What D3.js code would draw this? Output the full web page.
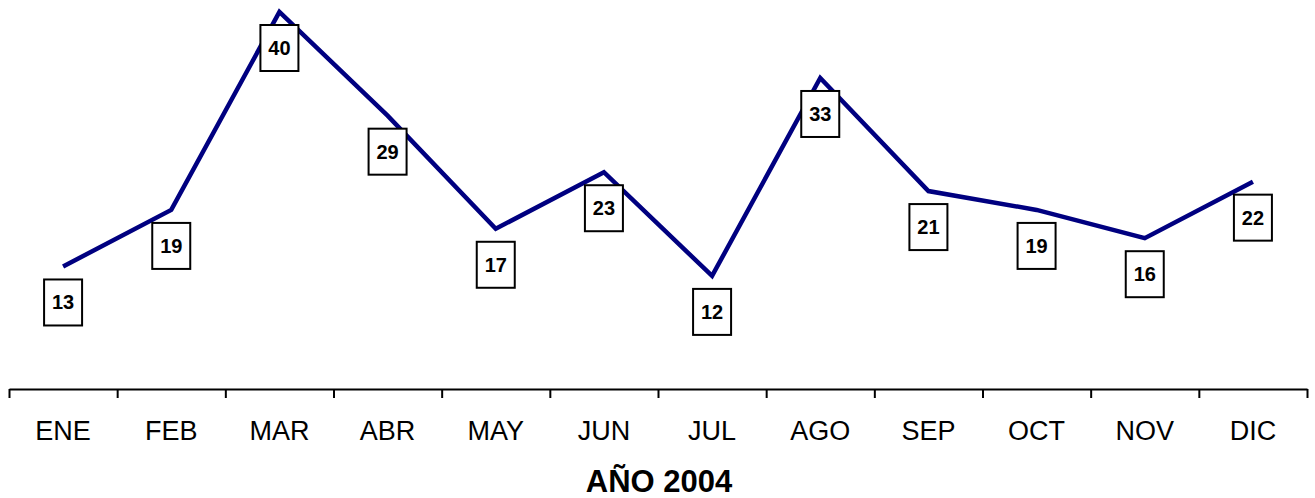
<!DOCTYPE html>
<html>
<head>
<meta charset="utf-8">
<script src="https://cdn.jsdelivr.net/npm/d3@7"></script>
<style>
  html, body { margin: 0; padding: 0; background: #fff; }
  svg { display: block; font-family: "Liberation Sans", Arial, sans-serif; }
</style>
</head>
<body>
<svg id="chart" width="1315" height="498"></svg>
<script>
const months = ["ENE","FEB","MAR","ABR","MAY","JUN","JUL","AGO","SEP","OCT","NOV","DIC"];
const values = [13, 19, 40, 29, 17, 23, 12, 33, 21, 19, 16, 22];
const xTitle = "AÑO 2004";

const svg = d3.select("#chart");
const left = 9, right = 1307, axisY = 389, topY = 12;

const x = d3.scaleBand().domain(months).range([left, right]).padding(0);
const xEdge = d3.scaleLinear().domain([0, months.length]).range([left, right]);
const y = d3.scaleLinear().domain([0, 40]).range([axisY, topY]);

// Axis line with ticks at category boundaries
const edgeAxis = svg.append("g")
  .attr("transform", `translate(0,${axisY})`)
  .call(d3.axisBottom(xEdge).tickValues(d3.range(months.length + 1)).tickFormat("").tickSize(9).tickSizeOuter(0));
edgeAxis.selectAll("path, line").attr("stroke", "#000").attr("stroke-width", 2);

// Category labels
const labelAxis = svg.append("g")
  .attr("transform", `translate(0,${axisY})`)
  .call(d3.axisBottom(x).tickSize(0));
labelAxis.select(".domain").remove();
labelAxis.selectAll("text")
  .attr("y", 51).attr("dy", 0)
  .attr("font-size", 27)
  .attr("font-family", "Liberation Sans, Arial, sans-serif")
  .attr("fill", "#000");

// Axis title
svg.append("text")
  .attr("x", 659).attr("y", 492)
  .attr("text-anchor", "middle")
  .attr("font-size", 31).attr("font-weight", "bold")
  .attr("fill", "#000")
  .text(xTitle);

const cx = d => x(d) + x.bandwidth() / 2;

// Line
const line = d3.line().x((d, i) => cx(months[i])).y(d => y(d));
svg.append("path")
  .datum(values)
  .attr("d", line)
  .attr("fill", "none")
  .attr("stroke", "#000080")
  .attr("stroke-width", 4.5)
  .attr("stroke-linejoin", "miter");

// Data labels
const lab = svg.append("g").selectAll("g")
  .data(values)
  .join("g")
  .attr("transform", (d, i) => `translate(${cx(months[i])},${y(d) + 36})`);
lab.append("rect")
  .attr("x", -19).attr("y", -23)
  .attr("width", 38).attr("height", 46)
  .attr("fill", "#fff").attr("stroke", "#000").attr("stroke-width", 2);
lab.append("text")
  .attr("text-anchor", "middle")
  .attr("y", 7)
  .attr("font-size", 20).attr("font-weight", "bold")
  .attr("fill", "#000")
  .text(d => d);
</script>
</body>
</html>
